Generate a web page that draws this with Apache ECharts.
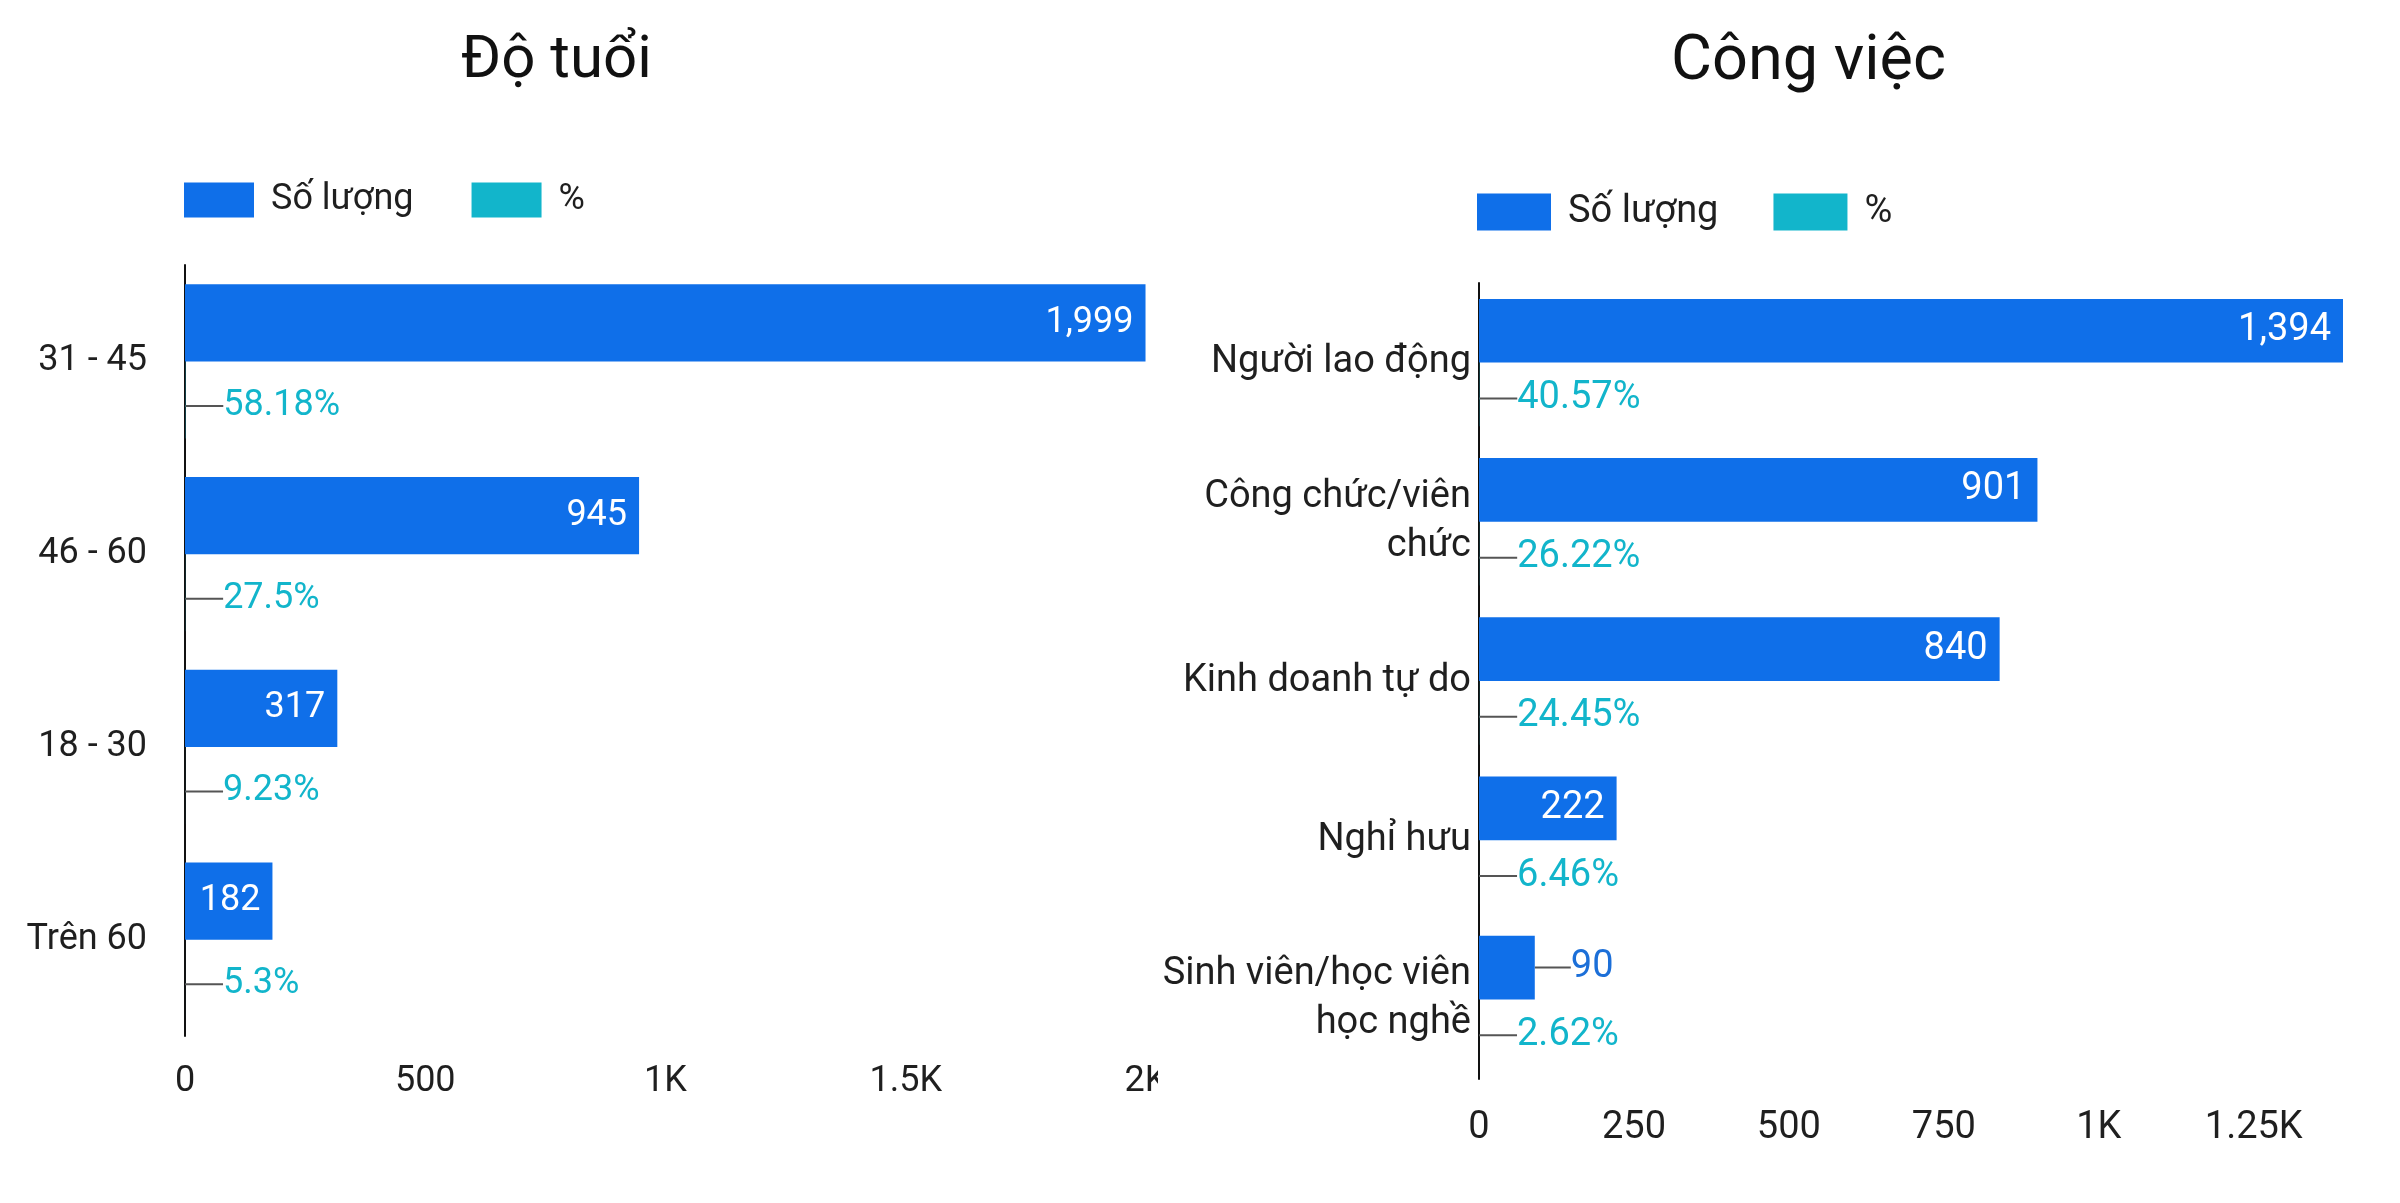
<!DOCTYPE html>
<html>
<head>
<meta charset="utf-8">
<script src="https://cdn.jsdelivr.net/npm/echarts@6/dist/echarts.min.js"></script>
<style>
html,body{margin:0;padding:0;background:#fff;width:2400px;height:1203px;overflow:hidden}
#left{position:absolute;left:0;top:0;width:1158px;height:1203px}
#right{position:absolute;left:1158px;top:0;width:1242px;height:1203px}
</style>
</head>
<body>
<div id="left"></div>
<div id="right"></div>
<script>
// ---- data ----
const legendNames = ['Số lượng', '%'];

const ageTitle = 'Độ tuổi';
const ageCategories = ['31 - 45', '46 - 60', '18 - 30', 'Trên 60'];
const ageCounts = [1999, 945, 317, 182];
const agePct = [58.18, 27.5, 9.23, 5.3];
const ageTicks = { min: 0, max: 2000, interval: 500 };

const jobTitle = 'Công việc';
const jobCategories = ['Người lao động', 'Công chức/viên chức', 'Kinh doanh tự do', 'Nghỉ hưu', 'Sinh viên/học viên học nghề'];
const jobCounts = [1394, 901, 840, 222, 90];
const jobPct = [40.57, 26.22, 24.45, 6.46, 2.62];
const jobTicks = { min: 0, max: 'dataMax', interval: 250 };

// ---- style ----
const FONT = 'Roboto';
const BLUE = '#0f6fe9';
const CYAN = '#12b5cb';
const TEXT = '#1f1f1f';

const measureCtx = document.createElement('canvas').getContext('2d');
function textWidth(text, font) {
  measureCtx.font = font;
  return measureCtx.measureText(text).width;
}

function wrapLabel(text, maxWidth, font) {
  const words = text.split(' ');
  const lines = [];
  let cur = '';
  for (const w of words) {
    const test = cur ? cur + ' ' + w : w;
    if (cur && textWidth(test, font) > maxWidth) { lines.push(cur); cur = w; }
    else cur = test;
  }
  if (cur) lines.push(cur);
  return lines.join('\n');
}

function kFormat(v) {
  if (v >= 1000) return (v / 1000) + 'K';
  return String(v);
}

function makeOption(cfg) {
  const fs = cfg.fontSize;
  const maxCount = Math.max.apply(null, cfg.counts);
  const outside = cfg.counts.map(v => v / maxCount < 0.08);
  const countData = cfg.counts.map((v, i) => outside[i] ? {
    value: v,
    label: { position: 'right', distance: 2, color: '#1c6fd8' },
    labelLine: { show: true }
  } : v);
  const pctData = cfg.pct.map(p => ({ value: p / 100, labelLine: { show: true } }));
  const titleW = textWidth(cfg.title, cfg.titleSize + 'px ' + FONT);
  return {
    animation: false,
    textStyle: { fontFamily: FONT },
    title: {
      text: cfg.title,
      left: Math.round(cfg.titleCenter - titleW / 2),
      top: cfg.titleTop,
      padding: 0,
      textStyle: { fontFamily: FONT, fontSize: cfg.titleSize, fontWeight: 'normal', color: '#111' }
    },
    legend: {
      data: legendNames,
      left: cfg.legendLeft,
      top: cfg.legendTop,
      padding: 0,
      itemWidth: cfg.legendW,
      itemHeight: cfg.legendH,
      itemGap: cfg.legendGap,
      icon: 'rect',
      textStyle: { fontFamily: FONT, fontSize: fs, color: TEXT, padding: [0, 0, 0, 12] }
    },
    grid: Object.assign({ containLabel: false, outerBoundsMode: 'none' }, cfg.grid),
    xAxis: {
      type: 'value',
      min: cfg.ticks.min,
      max: cfg.ticks.max,
      interval: cfg.ticks.interval,
      axisLine: { show: false },
      axisTick: { show: false },
      splitLine: { show: false },
      axisLabel: {
        fontFamily: FONT, fontSize: fs, color: TEXT, margin: cfg.xMargin,
        showMaxLabel: cfg.showMaxLabel,
        formatter: kFormat
      }
    },
    yAxis: {
      type: 'category',
      inverse: true,
      data: cfg.categories,
      axisLine: { show: true, lineStyle: { color: '#111', width: 2 } },
      axisTick: { show: false },
      axisLabel: {
        fontFamily: FONT, fontSize: fs, color: TEXT, margin: cfg.yMargin, lineHeight: 49,
        padding: [18, 0, 0, 0],
        formatter: v => wrapLabel(v, cfg.wrapWidth, fs + 'px ' + FONT)
      }
    },
    series: [
      {
        name: legendNames[0],
        type: 'bar',
        data: countData,
        barGap: '0%',
        barCategoryGap: '20%',
        itemStyle: { color: BLUE },
        label: {
          show: true, position: 'insideRight', distance: 12,
          fontFamily: FONT, fontSize: fs, color: '#fff',
          formatter: p => p.value.toLocaleString('en-US')
        },
        labelLine: { show: false, lineStyle: { color: '#555', width: 2 } },
        labelLayout: p => outside[p.dataIndex] ? { dx: 34 } : null
      },
      {
        name: legendNames[1],
        type: 'bar',
        data: pctData,
        barGap: '0%',
        barCategoryGap: '20%',
        itemStyle: { color: CYAN },
        label: {
          show: true, position: 'right', distance: 2,
          fontFamily: FONT, fontSize: fs, color: CYAN,
          formatter: p => cfg.pct[p.dataIndex] + '%'
        },
        labelLine: { show: true, lineStyle: { color: '#555', width: 2 } },
        labelLayout: { dx: 36, dy: cfg.pctDy }
      }
    ]
  };
}

const leftChart = echarts.init(document.getElementById('left'));
leftChart.setOption(makeOption({
  title: ageTitle, titleCenter: 556, titleTop: 32, titleSize: 60, fontSize: 36,
  legendLeft: 184, legendTop: 182, legendW: 70, legendH: 35, legendGap: 58,
  grid: { left: 185, right: 12, top: 265, bottom: 167 },
  ticks: ageTicks, showMaxLabel: true, xMargin: 28, yMargin: 38, wrapWidth: 400, pctDy: 6,
  categories: ageCategories, counts: ageCounts, pct: agePct
}));

const rightChart = echarts.init(document.getElementById('right'));
rightChart.setOption(makeOption({
  title: jobTitle, titleCenter: 650, titleTop: 32, titleSize: 63, fontSize: 38,
  legendLeft: 319, legendTop: 193, legendW: 74, legendH: 37, legendGap: 55,
  grid: { left: 321, right: 57, top: 283, bottom: 124 },
  ticks: jobTicks, showMaxLabel: false, xMargin: 30, yMargin: 8, wrapWidth: 330, pctDy: 4,
  categories: jobCategories, counts: jobCounts, pct: jobPct
}));
</script>
</body>
</html>
